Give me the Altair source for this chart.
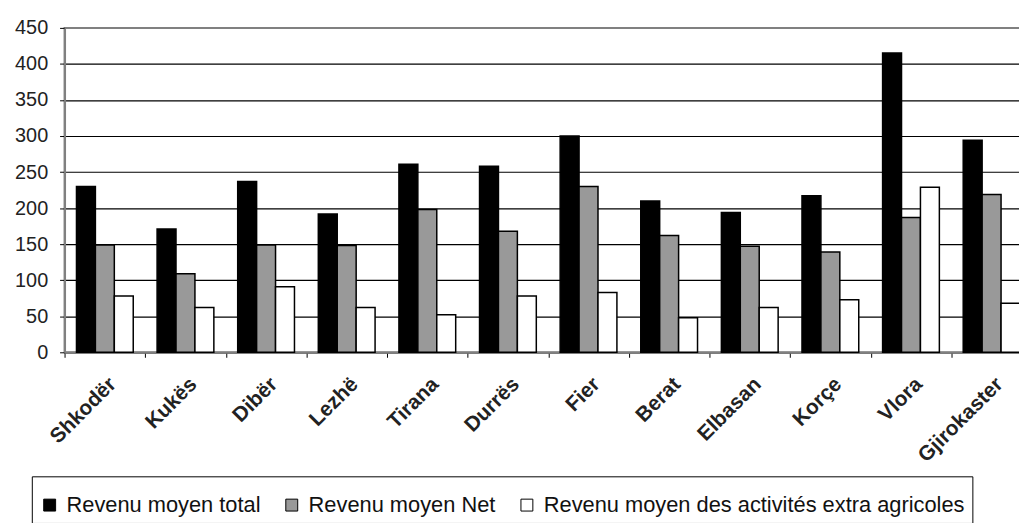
import altair as alt
import pandas as pd

regions = ["Shkodër", "Kukës", "Dibër", "Lezhë", "Tirana", "Durrës", "Fier",
           "Berat", "Elbasan", "Korçe", "Vlora", "Gjirokaster"]
series_names = ["Revenu moyen total", "Revenu moyen Net",
                "Revenu moyen des activités extra agricoles"]
total = [230, 171, 237, 192, 261, 258, 300, 210, 194, 217, 415, 294]
net = [149, 109, 149, 148, 198, 168, 230, 162, 147, 139, 187, 219]
extra = [78, 62, 91, 62, 52, 78, 83, 48, 62, 73, 229, 68]
y_ticks = [0, 50, 100, 150, 200, 250, 300, 350, 400, 450]
colors = ["#000000", "#999999", "#ffffff"]

rows = []
for name, vals in zip(series_names, [total, net, extra]):
    for r, v in zip(regions, vals):
        rows.append({"region": r, "series": name, "value": v})
df = pd.DataFrame(rows)

FONT = "Liberation Sans"

chart = alt.Chart(df).mark_bar(stroke="black", strokeWidth=1.5).encode(
    x=alt.X("region:N", sort=regions, title=None,
            scale=alt.Scale(paddingInner=0, paddingOuter=0),
            axis=alt.Axis(labelAngle=-45, labelFontSize=21, labelFontWeight="bold",
                          labelFont=FONT, labelColor="#222222", labelPadding=16,
                          tickBand="extent", tickColor="black", tickSize=5,
                          domainColor="#808080", domainWidth=2, grid=False)),
    xOffset=alt.XOffset("series:N", sort=series_names,
                        scale=alt.Scale(paddingInner=0, paddingOuter=0.63)),
    y=alt.Y("value:Q", title=None,
            scale=alt.Scale(domain=[0, 450], nice=False),
            axis=alt.Axis(values=y_ticks, labelFontSize=20, labelFont=FONT,
                          labelColor="#222222", labelPadding=12,
                          tickColor="black", tickSize=5,
                          domainColor="#808080", domainWidth=2,
                          gridColor={"condition": {"test": "datum.value === 450",
                                                   "value": "#808080"},
                                     "value": "black"},
                          gridWidth=1.2)),
    color=alt.Color("series:N", sort=series_names,
                    scale=alt.Scale(domain=series_names, range=colors),
                    legend=alt.Legend(orient="none", legendX=-33, legendY=452,
                                      direction="horizontal", title=" ",
                                      titleFontSize=9, titlePadding=2,
                                      labelFontSize=22, labelFont=FONT,
                                      labelColor="#111111", labelLimit=600,
                                      symbolType="square", symbolSize=144,
                                      symbolStrokeColor="black", symbolStrokeWidth=1,
                                      symbolOpacity=1, labelOffset=6,
                                      columnPadding=20, padding=7,
                                      strokeColor="black", fillColor="white")),
).properties(
    width=975, height=327,
    autosize=alt.AutoSizeParams(type="none"),
    padding={"left": 57, "top": 18, "right": -13, "bottom": 170},
).configure_view(stroke="#808080", strokeWidth=2)

chart.save("out.html", embed_options={"renderer": "svg", "actions": False})
